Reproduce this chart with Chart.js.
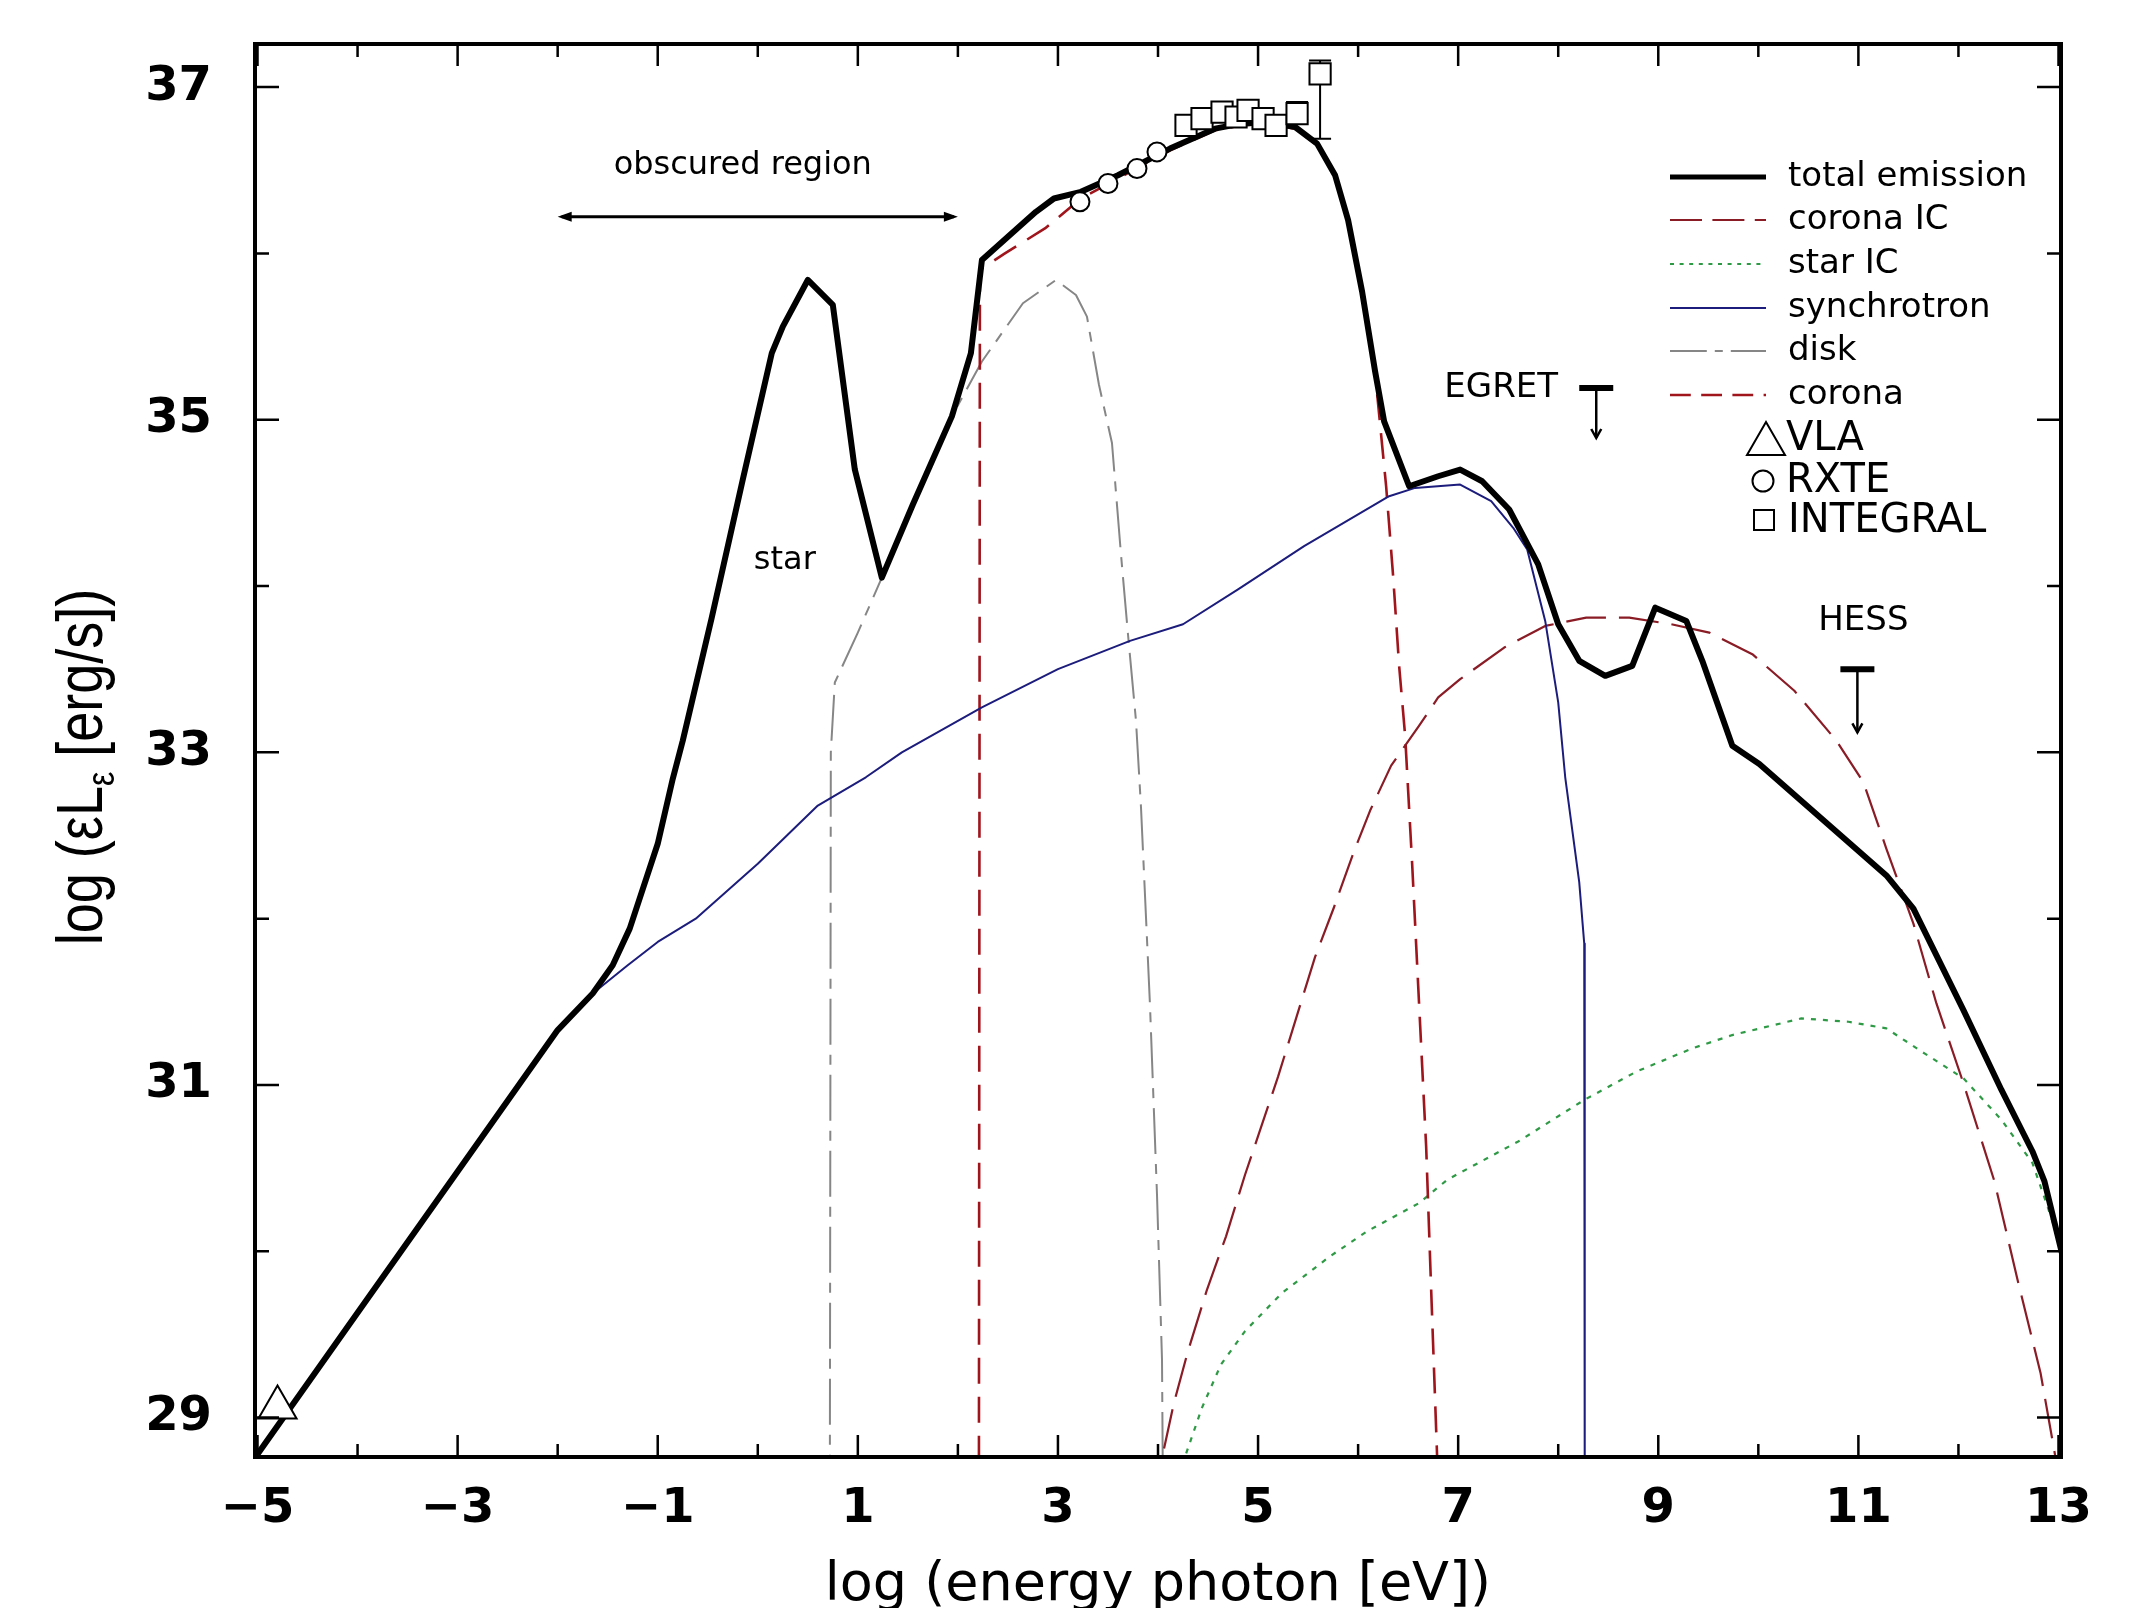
<!DOCTYPE html>
<html>
<head>
<meta charset="utf-8">
<script src="https://cdn.jsdelivr.net/npm/chart.js@4.4.1/dist/chart.umd.min.js"></script>
<style>
html,body{margin:0;padding:0;background:#ffffff;}
#wrap{width:2129px;height:1608px;position:relative;}
</style>
</head>
<body>
<div id="wrap"><canvas id="c" width="2129" height="1608"></canvas></div>
<script>
// ---------- data (log E [eV], log eL [erg/s]) ----------
const xTickLabels = [-5,-3,-1,1,3,5,7,9,11,13];
const yTickLabels = [29,31,33,35,37];
const legendLabels = ['total emission','corona IC','star IC','synchrotron','disk','corona'];
const markerLabels = ['VLA','RXTE','INTEGRAL'];

const totalEmission = [[-5,28.78],[-4,29.63],[-3,30.48],[-2,31.33],[-1.65,31.55],[-1.45,31.72],[-1.28,31.94],[-1.0,32.45],[-0.85,32.84],[-0.75,33.07],[-0.46,33.81],[-0.15,34.64],[0.14,35.40],[0.25,35.56],[0.50,35.84],[0.75,35.69],[0.97,34.70],[1.24,34.05],[1.55,34.49],[1.94,35.02],[2.13,35.40],[2.24,35.96],[2.5,36.1],[2.78,36.25],[2.96,36.33],[3.23,36.37],[3.6,36.47],[4.12,36.63],[4.57,36.75],[4.83,36.78],[5.1,36.79],[5.37,36.76],[5.59,36.66],[5.77,36.47],[5.90,36.20],[6.04,35.77],[6.17,35.29],[6.26,34.99],[6.51,34.60],[6.8,34.66],[7.02,34.70],[7.24,34.63],[7.51,34.46],[7.80,34.13],[8.0,33.77],[8.21,33.55],[8.47,33.46],[8.74,33.52],[8.97,33.87],[9.28,33.79],[9.44,33.55],[9.74,33.04],[10.01,32.93],[11.28,32.26],[11.55,32.06],[12.05,31.45],[12.43,30.97],[12.74,30.60],[12.86,30.42],[13.05,29.95]];

const coronaIC = [[3.98,28.5],[4.03,28.73],[4.16,29.09],[4.30,29.40],[4.49,29.77],[4.68,30.09],[4.87,30.46],[5.01,30.71],[5.20,31.05],[5.39,31.42],[5.57,31.77],[5.76,32.07],[5.95,32.39],[6.12,32.65],[6.33,32.92],[6.61,33.16],[6.80,33.33],[7.02,33.44],[7.46,33.63],[7.87,33.76],[8.28,33.81],[8.71,33.81],[9.13,33.77],[9.51,33.72],[9.94,33.59],[10.36,33.37],[10.78,33.07],[11.05,32.82],[11.28,32.42],[11.55,31.97],[11.78,31.49],[12.05,31.01],[12.36,30.42],[12.59,29.83],[12.82,29.27],[12.97,28.76],[13.0,28.6]];

const starIC = [[4.22,28.5],[4.25,28.73],[4.44,29.06],[4.63,29.32],[4.87,29.52],[5.24,29.75],[5.72,29.97],[6.09,30.12],[6.61,30.29],[6.89,30.43],[7.60,30.66],[8.26,30.91],[8.78,31.08],[9.34,31.22],[9.74,31.30],[10.43,31.40],[10.9,31.38],[11.28,31.34],[11.66,31.19],[12.05,31.04],[12.43,30.79],[12.74,30.53],[12.93,30.20],[13.05,29.94]];

const synchrotron = [[-5,28.78],[-4,29.63],[-3,30.48],[-2,31.33],[-1.65,31.55],[-1.3,31.72],[-1.0,31.86],[-0.62,32.0],[0,32.33],[0.6,32.68],[1.08,32.85],[1.44,33.0],[2.24,33.27],[3.0,33.5],[3.72,33.67],[4.25,33.77],[4.8,33.98],[5.46,34.24],[6.31,34.54],[6.57,34.59],[7.02,34.61],[7.33,34.51],[7.55,34.35],[7.69,34.22],[7.87,33.79],[8.0,33.3],[8.07,32.85],[8.21,32.22],[8.26,31.85],[8.265,28.5]];

const disk = [[0.72,28.5],[0.73,33.0],[0.77,33.42],[1.0,33.72],[1.24,34.05],[1.55,34.49],[1.94,35.02],[2.24,35.35],[2.65,35.70],[2.98,35.84],[3.18,35.75],[3.29,35.62],[3.41,35.21],[3.54,34.86],[3.63,34.19],[3.70,33.71],[3.78,33.19],[3.83,32.67],[3.92,31.48],[3.99,30.34],[4.04,29.35],[4.05,28.5]];

const corona = [[2.21,28.5],[2.22,35.9],[2.47,36.0],[2.87,36.15],[3.23,36.33],[3.6,36.45],[4.12,36.62],[4.57,36.74],[4.83,36.77],[5.1,36.78],[5.37,36.75],[5.59,36.65],[5.77,36.46],[5.90,36.19],[6.04,35.76],[6.17,35.28],[6.28,34.60],[6.35,34.06],[6.41,33.52],[6.47,33.10],[6.54,32.33],[6.61,31.48],[6.68,30.63],[6.73,29.77],[6.79,28.76],[6.80,28.5]];

const vlaPoints = [[-4.8,29.06]];
const rxtePoints = [[3.22,36.31],[3.50,36.42],[3.79,36.51],[3.99,36.61],[5.39,36.85]];
const integralPoints = [[4.28,36.77],[4.44,36.81],[4.64,36.85],[4.78,36.82],[4.90,36.86],[5.05,36.81],[5.18,36.77],[5.39,36.84],[5.62,37.08]];
const integralErrors = [[5.62,36.69,37.16],[5.39,36.80,36.91]];   // x, low, high
const egretLimit = [8.38,35.19,34.89];    // x, bar, arrow tip
const hessLimit = [10.99,33.50,33.12];
const obscuredRange = [-2,2,36.22];       // from, to, level
const textNotes = [['obscured region',-0.15,36.525],['star',0.27,34.15],['EGRET',7.43,35.19],['HESS',11.05,33.79]];

// ---------- styles ----------
const styles = {
  total:{color:'#000000',width:6,dash:[]},
  coronaIC:{color:'#8a1c26',width:2.2,dash:[40,13]},
  starIC:{color:'#2f9a45',width:2.2,dash:[5,7]},
  synchrotron:{color:'#1c1c7c',width:2,dash:[]},
  disk:{color:'#868686',width:2,dash:[46,10,10,10]},
  corona:{color:'#a0141c',width:2.6,dash:[26,13]}
};
const FONT = 'DejaVu Sans';
const toXY = a => a.map(p => ({x:p[0], y:p[1]}));
const lineDS = (label, data, st) => ({
  label, data: toXY(data), borderColor: st.color, backgroundColor: st.color,
  borderWidth: st.width, borderDash: st.dash, pointRadius: 0, pointHoverRadius: 0,
  fill: false, tension: 0, showLine: true, borderJoinStyle: 'round', borderCapStyle: 'butt'
});
const markDS = (label, data, style, r) => ({
  label, data: toXY(data), showLine: false, pointStyle: style, pointRadius: r, pointHoverRadius: r,
  pointBorderColor: '#000', pointBackgroundColor: '#ffffff', pointBorderWidth: 2
});
const fmt = v => v < 0 ? '\u2212' + Math.abs(v) : String(v);

const decor = {
  id: 'decor',
  beforeDatasetsDraw(chart) {
    const {ctx, scales:{x, y}} = chart;
    ctx.save();
    ctx.strokeStyle = '#000'; ctx.lineWidth = 2;
    integralErrors.forEach(([xv, lo, hi]) => {
      const px = x.getPixelForValue(xv), p1 = y.getPixelForValue(lo), p2 = y.getPixelForValue(hi);
      ctx.beginPath();
      ctx.moveTo(px, p1); ctx.lineTo(px, p2);
      ctx.moveTo(px - 11, p1); ctx.lineTo(px + 11, p1);
      ctx.moveTo(px - 11, p2); ctx.lineTo(px + 11, p2);
      ctx.stroke();
    });
    ctx.restore();
  },
  afterDraw(chart) {
    const {ctx, chartArea:{left, right, top, bottom}, scales:{x, y}} = chart;
    ctx.save();
    // frame
    ctx.strokeStyle = '#000'; ctx.lineWidth = 4;
    ctx.strokeRect(left, top, right - left, bottom - top);
    // inward ticks
    ctx.lineWidth = 2.5;
    ctx.beginPath();
    for (let v = Math.ceil(x.min); v <= Math.floor(x.max); v++) {
      const px = x.getPixelForValue(v), len = Math.abs(v) % 2 === 1 ? 22 : 13;
      ctx.moveTo(px, bottom); ctx.lineTo(px, bottom - len);
      ctx.moveTo(px, top); ctx.lineTo(px, top + len);
    }
    for (let v = Math.ceil(y.min); v <= Math.floor(y.max); v++) {
      const py = y.getPixelForValue(v), len = v % 2 === 1 ? 24 : 14;
      ctx.moveTo(left, py); ctx.lineTo(left + len, py);
      ctx.moveTo(right, py); ctx.lineTo(right - len, py);
    }
    ctx.stroke();

    // obscured region double arrow
    const ay = y.getPixelForValue(obscuredRange[2]);
    const ax1 = x.getPixelForValue(obscuredRange[0]), ax2 = x.getPixelForValue(obscuredRange[1]);
    ctx.lineWidth = 3;
    ctx.beginPath(); ctx.moveTo(ax1 + 4, ay); ctx.lineTo(ax2 - 4, ay); ctx.stroke();
    ctx.fillStyle = '#000';
    ctx.beginPath(); ctx.moveTo(ax1, ay); ctx.lineTo(ax1 + 14, ay - 5); ctx.lineTo(ax1 + 14, ay + 5); ctx.closePath(); ctx.fill();
    ctx.beginPath(); ctx.moveTo(ax2, ay); ctx.lineTo(ax2 - 14, ay - 5); ctx.lineTo(ax2 - 14, ay + 5); ctx.closePath(); ctx.fill();

    // upper limits
    [egretLimit, hessLimit].forEach(([xv, yb, yt]) => {
      const px = x.getPixelForValue(xv), pb = y.getPixelForValue(yb), pt = y.getPixelForValue(yt);
      ctx.lineWidth = 6;
      ctx.beginPath(); ctx.moveTo(px - 17, pb); ctx.lineTo(px + 17, pb); ctx.stroke();
      ctx.lineWidth = 2.5;
      ctx.beginPath(); ctx.moveTo(px, pb); ctx.lineTo(px, pt); ctx.stroke();
      ctx.beginPath(); ctx.moveTo(px - 5, pt - 9); ctx.lineTo(px, pt); ctx.lineTo(px + 5, pt - 9); ctx.stroke();
    });

    // text notes
    ctx.fillStyle = '#000'; ctx.textAlign = 'center'; ctx.textBaseline = 'middle';
    textNotes.forEach(([t, xv, yv], i) => {
      ctx.font = (i < 2 ? '32px ' : '34px ') + FONT;
      ctx.fillText(t, x.getPixelForValue(xv), y.getPixelForValue(yv));
    });

    // legend (lines)
    const keys = ['total','coronaIC','starIC','synchrotron','disk','corona'];
    const rowY = [177, 220, 264, 308, 351, 395];
    keys.forEach((k, i) => {
      const st = styles[k];
      ctx.strokeStyle = st.color; ctx.lineWidth = k === 'total' ? 5 : st.width;
      ctx.setLineDash(st.dash.length ? st.dash.map(d => Math.max(4, d * 0.8)) : []);
      ctx.beginPath(); ctx.moveTo(1670, rowY[i]); ctx.lineTo(1766, rowY[i]); ctx.stroke();
      ctx.setLineDash([]);
      ctx.fillStyle = '#000'; ctx.textAlign = 'left'; ctx.textBaseline = 'middle';
      ctx.font = '34px ' + FONT;
      ctx.fillText(legendLabels[i], 1788, rowY[i]);
    });
    // legend (markers)
    ctx.strokeStyle = '#000'; ctx.lineWidth = 2; ctx.fillStyle = '#fff';
    ctx.beginPath(); ctx.moveTo(1766, 422); ctx.lineTo(1785, 455); ctx.lineTo(1747, 455); ctx.closePath(); ctx.stroke();
    ctx.beginPath(); ctx.arc(1763, 481, 10.5, 0, Math.PI * 2); ctx.stroke();
    ctx.strokeRect(1754, 510, 20, 20);
    ctx.fillStyle = '#000'; ctx.font = '40px ' + FONT; ctx.textAlign = 'left'; ctx.textBaseline = 'middle';
    ctx.fillText(markerLabels[0], 1786, 440);
    ctx.fillText(markerLabels[1], 1786, 482);
    ctx.fillText(markerLabels[2], 1788, 522);

    // y-axis title with subscript
    ctx.save();
    ctx.translate(102, 767);
    ctx.rotate(-Math.PI / 2);
    ctx.scale(1, 1.2);
    const f1 = '54px "Liberation Sans"', f2 = '32px "Liberation Sans"';
    const pA = 'log (\u03b5L', pB = '\u03b5', pC = ' [erg/s])';
    ctx.font = f1; const wA = ctx.measureText(pA).width, wC = ctx.measureText(pC).width;
    ctx.font = f2; const wB = ctx.measureText(pB).width;
    let sx = -(wA + wB + wC) / 2;
    ctx.textAlign = 'left'; ctx.textBaseline = 'alphabetic'; ctx.fillStyle = '#000';
    ctx.font = f1; ctx.fillText(pA, sx, 0); sx += wA;
    ctx.font = f2; ctx.fillText(pB, sx, 10); sx += wB;
    ctx.font = f1; ctx.fillText(pC, sx, 0);
    ctx.restore();
    ctx.restore();
  }
};

new Chart(document.getElementById('c'), {
  type: 'line',
  data: {
    datasets: [
      markDS('INTEGRAL', integralPoints, 'rect', 15),
      markDS('RXTE', rxtePoints, 'circle', 9.5),
      markDS('VLA', vlaPoints, 'triangle', 22),
      lineDS(legendLabels[0], totalEmission, styles.total),
      lineDS(legendLabels[3], synchrotron, styles.synchrotron),
      lineDS(legendLabels[1], coronaIC, styles.coronaIC),
      lineDS(legendLabels[5], corona, styles.corona),
      lineDS(legendLabels[2], starIC, styles.starIC),
      lineDS(legendLabels[4], disk, styles.disk)
    ]
  },
  options: {
    responsive: false, animation: false, devicePixelRatio: 1,
    layout: {padding: {left: 0, right: 68, top: 44, bottom: 0}},
    plugins: {legend: {display: false}, tooltip: {enabled: false}},
    events: [],
    scales: {
      x: {
        type: 'linear', min: -5.025, max: 13.025,
        afterFit(s) { s.height = 151; s.paddingLeft = 0; s.paddingRight = 0; },
        afterBuildTicks(s) { s.ticks = xTickLabels.map(v => ({value: v})); },
        ticks: {autoSkip: false, maxRotation: 0, minRotation: 0, padding: 24, color: '#000',
          font: {family: FONT, weight: 'bold', size: 48}, callback: v => fmt(v)},
        grid: {display: false, drawTicks: false},
        border: {display: false},
        title: {display: true, text: 'log (energy photon [eV])', color: '#000',
          font: {family: FONT, size: 54, lineHeight: 0.8}, padding: 0}
      },
      y: {
        type: 'linear', min: 28.763, max: 37.259,
        afterFit(s) { s.width = 255; s.paddingTop = 0; s.paddingBottom = 0; },
        afterBuildTicks(s) { s.ticks = yTickLabels.map(v => ({value: v})); },
        ticks: {padding: 43, color: '#000', font: {family: FONT, weight: 'bold', size: 48}, callback: v => fmt(v)},
        grid: {display: false, drawTicks: false},
        border: {display: false}
      }
    }
  },
  plugins: [decor]
});
</script>
</body>
</html>
